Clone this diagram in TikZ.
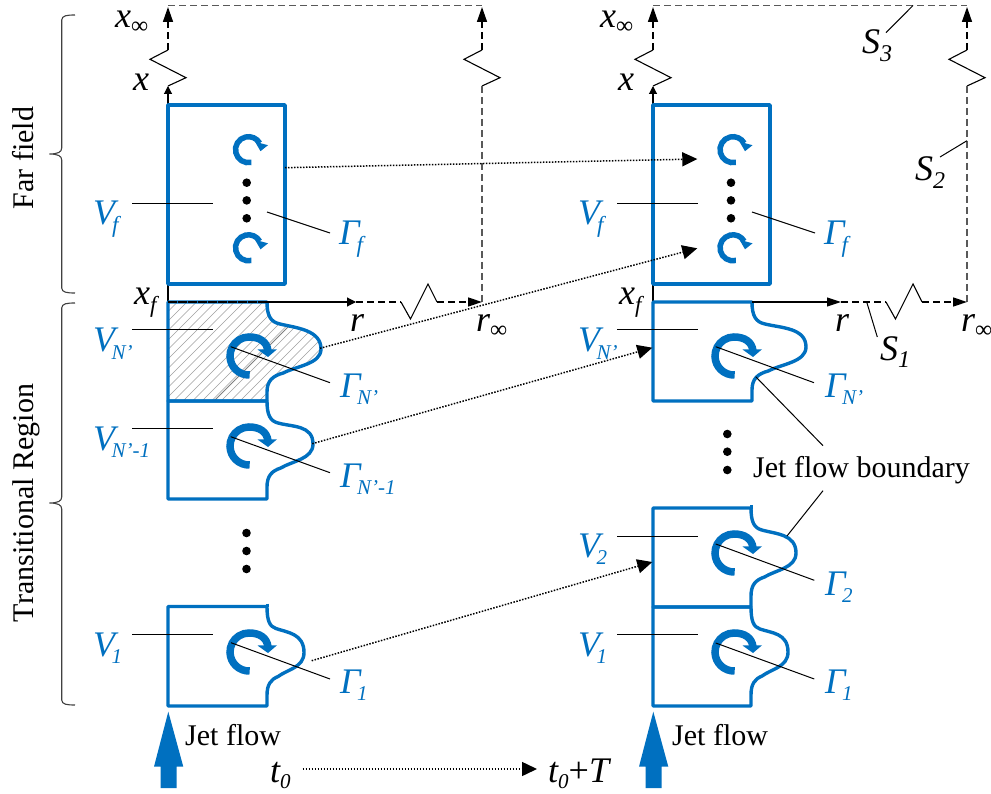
\documentclass[tikz,border=0pt]{standalone}
\usepackage{fontspec}
\setmainfont{Liberation Serif}
\usetikzlibrary{arrows.meta}
\definecolor{jetblue}{HTML}{0070C0}
\definecolor{dashgray}{HTML}{595959}
\definecolor{bracegray}{HTML}{404040}
\newcommand{\lsub}[1]{\kern-3.5pt\raisebox{-7.5pt}{\fontsize{21}{21}\selectfont #1}}
\newcommand{\vsub}[1]{\raisebox{-8pt}{\fontsize{24}{24}\selectfont #1}}
\newcommand{\fsub}[1]{\kern-3pt\raisebox{-8pt}{\fontsize{23}{23}\selectfont #1}}
\newcommand{\jetpath}[6]{(#6,{#2+#5}) -- (#6,#2) -- (#1,#2)
  .. controls (#1,{#2+14}) and ({#1+0.07*#3},{#2+20}) .. ({#1+0.24*#3},{#2+22})
  .. controls ({#1+0.55*#3},{#2+26}) and ({#1+#3},{#2+#4-19}) .. ({#1+#3},{#2+#4})
  .. controls ({#1+#3},{#2+#4+15}) and ({#1+0.55*#3},{#2+#4+17}) .. ({#1+0.3*#3},{#2+#4+24})
  .. controls ({#1+0.1*#3},{#2+#4+27}) and (#1,{#2+#4+32}) .. (#1,{#2+#4+43})
  -- (#1,{#2+#5}) -- cycle}
\newcommand{\bigvort}[2]{\begin{scope}[shift={(#1,#2)},x=1pt,y=1pt]
  \draw[vortline,line width=7.5pt] (272:19pt) arc[start angle=272,end angle=90,radius=19pt]
     .. controls (11,19) and (18,14) .. (19,5);
  \fill[jetblue] (8.5,6.5) -- (28,6.7) -- (19,-1) -- cycle;
\end{scope}}
\newcommand{\smallvort}[2]{\begin{scope}[shift={(#1,#2)},x=1pt,y=1pt]
  \draw[vortline,line width=5.5pt] (283:13pt) arc[start angle=283,end angle=30,radius=13pt];
  \fill[jetblue] (6.5,8) -- (19.5,4.5) -- (12,-1.5) -- cycle;
\end{scope}}
\newcommand{\sysframe}[2]{\begin{scope}[xshift=#2pt]
  \coordinate (#1o) at (168,302);
  \coordinate (#1bt) at (168,284);
  \coordinate (#1a) at (168,105);
  \coordinate (#1b) at (168,86);
  \coordinate (#1c) at (150,59.3);
  \coordinate (#1d) at (186,77.7);
  \coordinate (#1e) at (168,50);
  \coordinate (#1f) at (168,5.5);
  \coordinate (#1g) at (482,5.5);
  \coordinate (#1h) at (482,50);
  \coordinate (#1i) at (464,59.3);
  \coordinate (#1j) at (500,77.7);
  \coordinate (#1k) at (482,86);
  \coordinate (#1l) at (482,302);
  \coordinate (#1m) at (356,302);
  \coordinate (#1n) at (401,302);
  \coordinate (#1p) at (410.5,319);
  \coordinate (#1q) at (428,284);
  \coordinate (#1r) at (437,302);
  \draw[axisline] (#1bt) -- (#1o);
  \draw[axisline,-{Triangle[length=8pt,width=8pt]}] (#1a) -- (#1b);
  \draw[axisline] (#1b) -- (#1d) -- (#1c) -- (#1e);
  \draw[dashline,black,-{Triangle[length=15pt,width=10pt]}] (#1e) -- ([yshift=-1.5pt]#1f);
  \draw[dashline] (#1f) -- (#1g);
  \draw[dashline,black,-{Triangle[length=15pt,width=10pt]}] (#1h) -- ([yshift=-1.5pt]#1g);
  \draw[axisline] (#1h) -- (#1i) -- (#1j) -- (#1k);
  \draw[dashline] (#1k) -- (#1l);
  \draw[dashline,black] (#1m) -- (#1n);
  \draw[axisline] (#1n) -- (#1p) -- (#1q) -- (#1r);
  \draw[dashline,black,-{Triangle[length=14pt,width=9pt]}] (#1r) -- (#1l);
\end{scope}}
\tikzset{
  x=1pt,y=-1pt,
  jetbox/.style={draw=jetblue,line width=3.4pt,line join=round},
  vortline/.style={draw=jetblue},
  axisline/.style={draw=black,line width=1.1pt},
  dashline/.style={draw=dashgray,line width=1.5pt,dash pattern=on 7pt off 4pt},
  leader/.style={draw=black,line width=1pt},
  flowarrow/.style={draw=black,line width=1.5pt,dash pattern=on 1.5pt off 1.5pt,-{Triangle[length=15pt,width=14pt,fill=black]}},
  brace/.style={draw=bracegray,line width=1.1pt},
  lab/.style={inner sep=0pt,anchor=base west,font=\fontsize{36}{36}\selectfont\itshape},
  blab/.style={lab,text=jetblue},
  plain/.style={inner sep=0pt,anchor=base west,font=\fontsize{30}{30}\selectfont},
  vplain/.style={inner sep=0pt,anchor=base,rotate=90,font=\fontsize{30}{30}\selectfont},
  dotmark/.style={circle,fill=black,inner sep=0pt,minimum size=8.6pt},
  jetarrow/.style={fill=jetblue},
  hatchline/.style={draw=gray!75,line width=0.6pt},
}
\begin{document}
\begin{tikzpicture}
\useasboundingbox (0,0) rectangle (991,794);
\fill[white] (0,0) rectangle (991,794);

% hatching of V_N'
\begin{scope}
  \clip \jetpath{267}{302}{54}{47}{99}{168};
  \foreach \c in {60,69.5,...,340}{\draw[hatchline] (\c,410) -- ({\c+120},290);}
  \draw[draw=gray,line width=0.8pt] (205,410) -- (325,290);
\end{scope}

\sysframe{L}{0}
\sysframe{R}{485}

% boxes
\draw[jetbox] (168,105) rectangle (285,284);
\draw[jetbox] (653,105) rectangle (770,284);
\draw[jetbox] \jetpath{267}{302}{54}{47}{99}{168};
\draw[jetbox] \jetpath{267}{401}{46}{43}{98}{168};
\draw[jetbox] \jetpath{267}{606.5}{37}{46}{99.5}{168};
\draw[jetbox] \jetpath{752}{302}{54}{45}{99}{653};
\draw[jetbox] \jetpath{751}{508}{45}{45}{99}{653};
\draw[jetbox] \jetpath{751}{607}{37}{45}{99}{653};
\draw[jetblue,line width=3pt] (267,603.5) -- (267,607);
\draw[jetblue,line width=3pt] (751,505) -- (751,509);

% r axes over the boxes
\draw[axisline,line width=1.2pt,dash pattern=on 9pt off 1pt] (168,302) -- (267,302);
\draw[axisline,-{Triangle[length=9pt,width=9pt]}] (267,302) -- (Lm);
\draw[axisline,-{Triangle[length=14pt,width=9pt]}] (752,302) -- (Rm);

% vortices
\smallvort{248.5}{149.7}
\smallvort{248.5}{247.8}
\smallvort{733}{149.7}
\smallvort{733}{247.8}
\bigvort{249}{356}
\bigvort{249}{446}
\bigvort{249}{652}
\bigvort{734}{356}
\bigvort{734}{553}
\bigvort{734}{652}

% dots
\node[dotmark] (d1) at (246.7,182.7) {};
\node[dotmark] (d2) at (246.7,200.4) {};
\node[dotmark] (d3) at (246.7,218.3) {};
\node[dotmark] (d4) at (731,182.7) {};
\node[dotmark] (d5) at (731,200.4) {};
\node[dotmark] (d6) at (731,218.3) {};
\node[dotmark] (d7) at (246.5,533) {};
\node[dotmark] (d8) at (246.5,551) {};
\node[dotmark] (d9) at (246.5,569) {};
\node[dotmark] (d10) at (727.3,434) {};
\node[dotmark] (d11) at (727.3,451.7) {};
\node[dotmark] (d12) at (727.3,470) {};

% black labels
\node[lab] (xinfL) at (115,28) {x\raisebox{-6pt}{\fontsize{24}{24}\selectfont\upshape ∞}};
\node[lab] (xinfR) at (600,28) {x\raisebox{-6pt}{\fontsize{24}{24}\selectfont\upshape ∞}};
\node[lab] (xL) at (133,90.5) {x};
\node[lab] (xR) at (618,90.5) {x};
\node[lab] (xfL) at (134,305) {x\raisebox{-8pt}{\fontsize{23}{23}\selectfont f}};
\node[lab] (xfR) at (619,305) {x\raisebox{-8pt}{\fontsize{23}{23}\selectfont f}};
\node[lab] (rL) at (350,332) {r};
\node[lab] (rR) at (835,332) {r};
\node[lab] (rinfL) at (476,332) {r\raisebox{-6pt}{\fontsize{24}{24}\selectfont\upshape ∞}};
\node[lab] (rinfR) at (961,332) {r\raisebox{-6pt}{\fontsize{24}{24}\selectfont\upshape ∞}};
\node[lab] (S1) at (880,360) {S\vsub{1}};
\node[lab] (S2) at (915,181) {S\vsub{2}};
\node[lab] (S3) at (862,54) {S\vsub{3}};

% blue labels
\node[blab] (VfL) at (93,225) {V\fsub{f}};
\node[blab] (VfR) at (578,225) {V\fsub{f}};
\node[blab] (GfL) at (339,245) {Γ\fsub{f}};
\node[blab] (GfR) at (824,245) {Γ\fsub{f}};
\node[blab] (VnL) at (93,351.7) {V\lsub{N’}};
\node[blab] (VnR) at (578,351.7) {V\lsub{N’}};
\node[blab] (GnL) at (340,397) {Γ\lsub{N’}};
\node[blab] (GnR) at (825,397) {Γ\lsub{N’}};
\node[blab] (VmL) at (93,450) {V\lsub{N’-1}};
\node[blab] (GmL) at (340,487) {Γ\lsub{N’-1}};
\node[blab] (V2R) at (578,557) {V\lsub{2}};
\node[blab] (G2R) at (825,595) {Γ\lsub{2}};
\node[blab] (V1L) at (93,656) {V\lsub{1}};
\node[blab] (G1L) at (340,693) {Γ\lsub{1}};
\node[blab] (V1R) at (578,656) {V\lsub{1}};
\node[blab] (G1R) at (825,693) {Γ\lsub{1}};

% plain text
\node[vplain] (far) at (33,158) {Far field};
\node[vplain] (trans) at (33,503) {Transitional Region};
\node[plain] (jfb) at (753,477) {Jet flow boundary};
\node[plain] (jfL) at (185,745) {Jet flow};
\node[plain] (jfR) at (672,745) {Jet flow};
\node[lab,anchor=base west] (t0) at (270,782) {t\raisebox{-6pt}{\fontsize{21}{21}\selectfont 0}};
\node[lab] (tT) at (548,782) {t\raisebox{-6pt}{\fontsize{21}{21}\selectfont 0}\upshape+\itshape T};

% leader coordinates
\foreach \n/\a/\b/\c/\d in {
  a1/132/203.5/212.7/203.5, a2/617/203.5/697.7/203.5,
  a3/267/212/330/233, a4/752/212/815/233,
  a5/132/329.5/212.7/329.5, a6/617/329.5/697.7/329.5,
  a7/230.7/346.7/330/382.7, a8/715.7/346.7/814/382.7,
  a9/132/428.5/212.7/428.5, a10/230.7/436.7/330/472.7,
  a11/617/536.5/697.7/536.5, a12/715.7/544/814.3/580.3,
  a13/132/634.5/213/634.5, a14/231/642.7/330/679,
  a15/617/634.5/698/634.5, a16/715.7/643/814.3/679,
  a17/866.7/302/877.3/337, a18/913/5.5/886/32.7, a19/967/140.7/940/157,
  a20/755.7/376.7/823/445.7, a21/823/490.7/787/536}{
  \coordinate (\n s) at (\a,\b);
  \coordinate (\n e) at (\c,\d);
  \draw[leader] (\n s) -- (\n e);
}

% flow arrows
\coordinate (f1s) at (285,167.7); \coordinate (f1e) at (697.3,159);
\coordinate (f2s) at (320,348.3); \coordinate (f2e) at (697.3,248.3);
\coordinate (f3s) at (312.3,443.7); \coordinate (f3e) at (652.3,347.7);
\coordinate (f4s) at (311.7,660.7); \coordinate (f4e) at (652.3,562);
\coordinate (f5s) at (302.7,769); \coordinate (f5e) at (537,769);
\draw[flowarrow] (f1s) -- (f1e);
\draw[flowarrow] (f2s) -- (f2e);
\draw[flowarrow] (f3s) -- (f3e);
\draw[flowarrow] (f4s) -- (f4e);
\draw[flowarrow] (f5s) -- (f5e);

% jet arrows
\fill[jetarrow] (168.3,711.7) -- (183.3,766.7) -- (176.7,766.7) -- (176.7,788) -- (160.7,788) -- (160.7,766.7) -- (154,766.7) -- cycle;
\fill[jetarrow] (653.3,711.7) -- (668.3,766.7) -- (661.7,766.7) -- (661.7,788) -- (645.7,788) -- (645.7,766.7) -- (639,766.7) -- cycle;

% braces
\draw[brace] (75,15) .. controls (67,15) and (62,15.5) .. (61.7,20) -- (61.7,148) .. controls (61.7,152) and (58,154) .. (49.3,154) .. controls (58,154) and (61.7,156) .. (61.7,160) -- (61.7,288) .. controls (62,292.5) and (67,293) .. (75,293);
\draw[brace] (75,303) .. controls (67,303) and (62,303.5) .. (61.7,308) -- (61.7,497) .. controls (61.7,501) and (58,503) .. (49.3,503) .. controls (58,503) and (61.7,505) .. (61.7,509) -- (61.7,700) .. controls (62,704.5) and (67,705) .. (75,705);
\end{tikzpicture}
\end{document}
